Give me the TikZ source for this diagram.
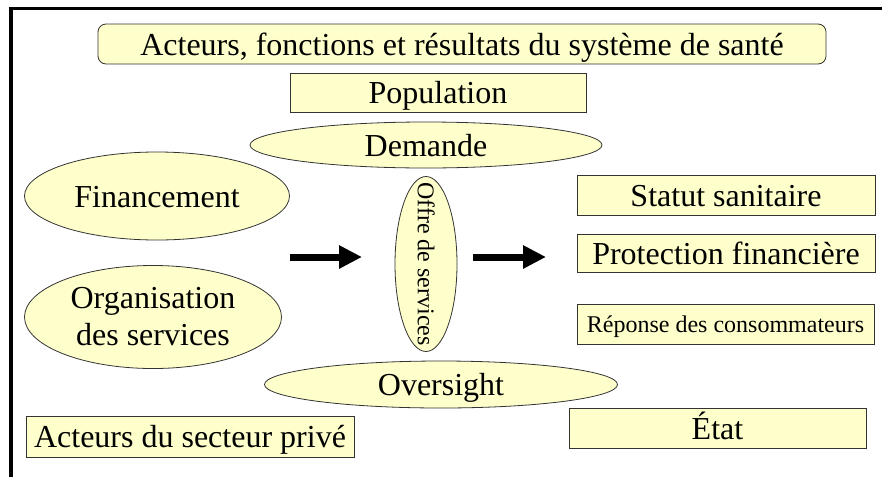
\documentclass[tikz,border=0pt]{standalone}
\usepackage{fontspec}
\setmainfont{Liberation Serif}
\usetikzlibrary{arrows.meta,shapes.geometric}
\definecolor{jaune}{HTML}{FFFFCC}
\begin{document}
\begin{tikzpicture}[x=1pt,y=-1pt,font=\fontsize{32}{37}\selectfont,
  every node/.style={draw=black!80,fill=jaune,line width=0.8pt,align=center,inner sep=0pt},
  ligne/.style={text height=22pt,text depth=0pt},
  boite/.style={rectangle,ligne,minimum height=40pt},
  bulle/.style={ellipse},
  petit/.style={font=\fontsize{24}{28}\selectfont,text height=16.5pt},
  fleche/.style={line width=7pt,-{Triangle[length=23pt,width=22pt]}}]
\useasboundingbox (0,0) rectangle (882,477);
\draw[line width=3.5pt](11,477)--(11,8.5)--(882,8.5);
\node[boite,rounded corners=8pt,minimum width=728pt](titre) at (462,44){Acteurs, fonctions et résultats du système de santé};
\node[boite,minimum width=296pt,minimum height=39pt](pop) at (438,92.5){Population};
\node[bulle,ligne,minimum width=352pt,minimum height=46pt](dem) at (426,145){Demande};
\node[bulle,ligne,minimum width=265pt,minimum height=88pt](fin) at (157,196){Financement};
\node[bulle,minimum width=257pt,minimum height=103pt](org) at (153,317){Organisation\\des services};
\node[bulle,petit,rotate=-90,minimum width=175pt,minimum height=62pt](offre) at (426,264){\makebox[0pt]{Offre de services}};
\node[bulle,ligne,minimum width=353pt,minimum height=47pt](over) at (441,384.5){Oversight};
\node[boite,minimum width=298pt](statut) at (726,195){Statut sanitaire};
\node[boite,minimum width=298pt,minimum height=38pt](prot) at (726,253){Protection financière};
\node[boite,petit,minimum width=297pt](rep) at (725.5,324){Réponse des consommateurs};
\node[boite,minimum width=297pt](etat) at (717.5,428){État};
\node[boite,minimum width=328pt,minimum height=41pt](prive) at (190,436.5){Acteurs du secteur privé};
\coordinate(g1) at (290,257);\coordinate(g2) at (362,257);
\coordinate(d1) at (473,257);\coordinate(d2) at (546,257);
\draw[fleche](g1)--(g2);\draw[fleche](d1)--(d2);
\end{tikzpicture}
\end{document}
